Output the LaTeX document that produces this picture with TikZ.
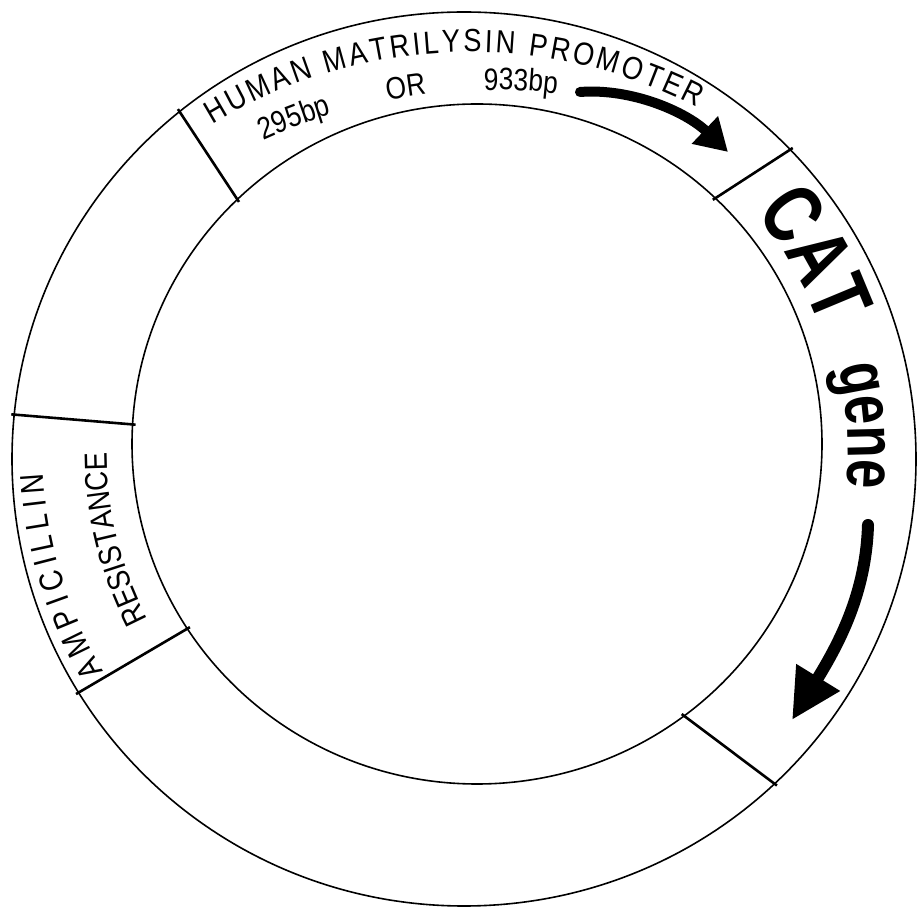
\documentclass[tikz,border=0pt]{standalone}
\usepackage{fontspec}
\newfontfamily\handfont[FakeStretch=0.85]{Liberation Sans}
\newfontfamily\catfont[FakeStretch=0.75]{Liberation Sans}
\usetikzlibrary{decorations.text,arrows.meta}

\begin{document}
\begin{tikzpicture}[
    x=1pt, y=1pt,
    ring/.style={draw=black, line width=1.6pt},
    divider/.style={draw=black, line width=2.6pt, shorten <=-3pt, shorten >=-3pt},
    bandtext/.style={decorate, decoration={text along path, text align={fit to path}, text={#1}}},
    bigarrow/.style={draw=black, line width=#1, line cap=round}
]
    \useasboundingbox (0,0) rectangle (918,910);

    % plasmid ring
    \coordinate (O) at (464,451);
    \coordinate (I) at (477,466);
    \draw[ring] (O) ellipse [x radius=452, y radius=447];
    \draw[ring] (I) ellipse [x radius=345, y radius=340];

    % segment borders
    \foreach \name/\ao/\ai in {promL/129/134, promR/43.8/46.3, ampT/174.3/176.7, ampB/211.5/212.9, catB/-46.6/-53.1} {
        \path (O) ++(\ao:452 and 447) coordinate (\name-o);
        \path (I) ++(\ai:345 and 340) coordinate (\name-i);
        \draw[divider] (\name-o) -- (\name-i);
    }

    % promoter labels
    \path[bandtext={|\handfont\fontsize{32}{32}\selectfont|HUMAN MATRILYSIN PROMOTER}, shift={(470,364)}]
        (121.4:494) arc[start angle=121.4, end angle=62.6, radius=494];
    \path[bandtext={|\handfont\fontsize{31}{31}\selectfont|295bp OR 933bp}, decoration={text align={fit to path stretching spaces}}, shift={(494,264)}]
        (114.5:556) arc[start angle=114.5, end angle=83.5, radius=556];

    % CAT gene labels
    \path[bandtext={|\catfont\bfseries\fontsize{85}{85}\selectfont|CAT}, shift={(470,458)}]
        (40:372) arc[start angle=40, end angle=19.6, radius=372];
    \path[bandtext={|\catfont\bfseries\fontsize{70}{70}\selectfont|gene}, shift={(470,458)}]
        (13.1:378) arc[start angle=13.1, end angle=-4.4, radius=378];

    % ampicillin labels
    \path[bandtext={|\handfont\fontsize{33}{33}\selectfont|AMPICILLIN}, shift={(470,458)}]
        (211:427) arc[start angle=211, end angle=182.8, radius=427];
    \path[bandtext={|\handfont\fontsize{32}{32}\selectfont|RESISTANCE}, shift={(470,458)}]
        (207.5:363) arc[start angle=207.5, end angle=180.7, radius=363];

    % direction arrows
    \coordinate (promTail) at (580,818);
    \coordinate (promTip) at (728,758);
    \coordinate (catTail) at (868,385);
    \coordinate (catTip) at (792,190);
    \draw[bigarrow=10pt, -{Triangle[length=32pt, width=36pt]}]
        (promTail) .. controls (632,822) and (686,798) .. (promTip);
    \draw[bigarrow=12pt, -{Triangle[length=50pt, width=48pt]}]
        (catTail) .. controls (866,318) and (840,268) .. (catTip);
\end{tikzpicture}
\end{document}
